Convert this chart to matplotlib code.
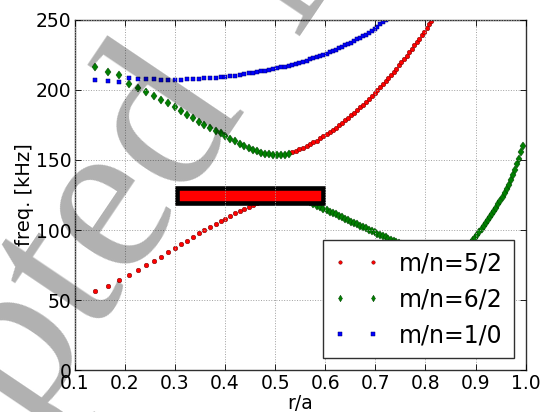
import matplotlib
matplotlib.use('Agg')
import matplotlib.pyplot as plt
from matplotlib.patches import Rectangle

# ---- data ----
r_grid = [0.141, 0.167, 0.189, 0.208, 0.226, 0.243, 0.258, 0.273, 0.287, 0.300,
          0.313, 0.325, 0.337, 0.348, 0.359, 0.370, 0.381, 0.391, 0.400, 0.410,
          0.420, 0.429, 0.438, 0.447, 0.455, 0.464, 0.472, 0.480, 0.488, 0.496,
          0.504, 0.512, 0.519, 0.527, 0.534, 0.541, 0.548, 0.556, 0.563, 0.569,
          0.576, 0.583, 0.590, 0.596, 0.603, 0.609, 0.616, 0.622, 0.628, 0.634,
          0.640, 0.646, 0.652, 0.658, 0.664, 0.670, 0.676, 0.682, 0.687, 0.693,
          0.699, 0.704, 0.710, 0.715, 0.721, 0.726, 0.731, 0.737, 0.742, 0.747,
          0.752, 0.758, 0.763, 0.768, 0.773, 0.778, 0.783, 0.788, 0.793, 0.798,
          0.803, 0.807, 0.812, 0.817, 0.822, 0.826, 0.831, 0.836, 0.841, 0.845,
          0.850, 0.854, 0.859, 0.863, 0.868, 0.872, 0.877, 0.881, 0.886, 0.890,
          0.894, 0.899, 0.903, 0.907, 0.912, 0.916, 0.920, 0.924, 0.929, 0.933,
          0.937, 0.941, 0.945, 0.949, 0.954, 0.958, 0.962, 0.966, 0.970, 0.974,
          0.978, 0.982, 0.986, 0.990, 0.994]

freq_52 = [56.4, 60.2, 64.3, 68.1, 71.4, 74.8, 78.1, 80.9, 84.1, 87.1,
           90.2, 92.4, 95.0, 97.6, 100.0, 102.1, 104.3, 106.2, 108.1, 110.0,
           111.9, 113.6, 115.0, 116.4, 117.9, 119.2, 120.4, 121.5, 122.5, 123.4,
           124.2, 124.9, 125.5, 126.0, 155.4, 156.5, 157.6, 158.7, 160.0, 161.2,
           162.6, 163.9, 165.4, 166.8, 168.3, 169.9, 171.5, 173.1, 174.8, 176.5,
           178.3, 180.1, 181.9, 183.7, 185.6, 187.6, 189.5, 191.5, 193.5, 195.6,
           197.6, 199.7, 201.9, 204.0, 206.2, 208.4, 210.6, 212.9, 215.2, 217.5,
           219.8, 222.2, 224.5, 226.9, 229.3, 231.8, 234.2, 236.7, 239.2, 241.7,
           244.2, 246.8, 249.4, 251.9]

freq_62 = [216.4, 213.1, 211.0, 204.1, 201.2, 198.6, 195.7, 193.1, 190.5, 187.9,
           185.0, 182.1, 179.8, 177.4, 175.2, 173.1, 171.0, 169.1, 167.1, 165.2,
           163.6, 161.6, 160.2, 158.8, 157.4, 156.4, 155.2, 154.5, 154.1, 153.6,
           153.6, 153.6, 153.9, 154.4, 125.5, 124.4, 123.2, 121.9, 120.8, 119.8,
           118.6, 117.5, 116.3, 115.3, 114.2, 113.2, 112.1, 111.1, 110.0, 109.0,
           108.0, 107.0, 106.0, 105.0, 104.1, 103.1, 102.1, 101.2, 100.3, 99.3,
           98.4, 97.5, 96.6, 95.7, 94.8, 93.9, 93.0, 92.2, 91.3, 90.5,
           89.7, 88.9, 88.0, 87.1, 86.2, 85.4, 84.6, 83.8, 83.1, 82.4,
           81.8, 81.3, 80.9, 80.6, 80.4, 80.3, 80.3, 80.4, 80.6, 80.9,
           81.3, 81.9, 82.6, 83.4, 84.3, 85.3, 86.3, 87.5, 89.0, 90.7,
           92.6, 94.6, 96.7, 98.8, 100.9, 103.0, 105.1, 107.2, 109.3, 111.4,
           113.6, 115.9, 118.3, 120.8, 123.5, 126.3, 129.3, 132.4, 135.7, 139.2,
           142.9, 146.8, 151.0, 155.4, 160.3]

freq_10 = [206.9, 206.4, 205.7, 208.8, 208.1, 207.9, 207.6, 207.4, 207.4, 207.4,
           207.4, 207.6, 207.9, 208.1, 208.3, 208.6, 208.8, 209.0, 209.4, 209.8,
           210.3, 210.8, 211.3, 211.8, 212.3, 212.8, 213.3, 213.8, 214.3, 214.9,
           215.5, 216.1, 216.7, 217.4, 218.1, 218.8, 219.5, 220.2, 221.0, 221.8,
           222.6, 223.4, 224.2, 225.1, 226.0, 226.9, 227.8, 228.8, 229.8, 230.8,
           231.8, 232.8, 233.9, 235.0, 236.1, 237.2, 238.4, 239.6, 240.8, 242.1,
           243.8, 245.3, 246.8, 248.3, 249.8, 251.3]

labels = ['m/n=5/2', 'm/n=6/2', 'm/n=1/0']
box_r = [0.305, 0.595]
box_f = [119.2, 130.1]
xticks = [0.1, 0.2, 0.3, 0.4, 0.5, 0.6, 0.7, 0.8, 0.9, 1.0]
yticks = [0, 50, 100, 150, 200, 250]

plt.rcParams.update({
    'font.family': 'DejaVu Sans',
    'font.size': 13.5,
    'xtick.direction': 'in', 'ytick.direction': 'in',
    'xtick.top': True, 'ytick.right': True,
    'xtick.major.size': 4, 'ytick.major.size': 4,
    'xtick.major.width': 0.6, 'ytick.major.width': 0.6,
    'xtick.major.pad': 3, 'ytick.major.pad': 2.5,
    'axes.linewidth': 1.0,
})

fig = plt.figure(figsize=(5.43, 4.12), dpi=100)
ax = fig.add_axes([0.1376, 0.1019, 0.8305, 0.8496])

ax.plot(r_grid[:len(freq_52)], freq_52, ls='none', marker='o', color='#ff0000',
        ms=3.3, mec='#700000', mew=0.35, label=labels[0], zorder=2)
ax.plot(r_grid[:len(freq_62)], freq_62, ls='none', marker='d', color='#008000',
        ms=4.4, mec='#004000', mew=0.35, label=labels[1], zorder=2)
ax.plot(r_grid[:len(freq_10)], freq_10, ls='none', marker='s', color='#0000ff',
        ms=3.0, mec='#000070', mew=0.35, label=labels[2], zorder=2)

ax.add_patch(Rectangle((box_r[0], box_f[0]), box_r[1] - box_r[0], box_f[1] - box_f[0],
                       facecolor='#ff0000', edgecolor='black', lw=3.3, zorder=2.2))

ax.set_xlim(0.1, 1.0)
ax.set_ylim(0, 250)
ax.set_xticks(xticks)
ax.set_yticks(yticks)
ax.set_xticklabels(['%.1f' % v for v in xticks])
ax.set_axisbelow(False)
ax.grid(True, color='#a0a0a0', ls=':', lw=0.7, zorder=2.5)
for s in ax.spines.values():
    s.set_color('#303030')

ax.set_xlabel('r/a', fontsize=13.5, labelpad=0.5)
ax.set_ylabel('freq. [kHz]', fontsize=14, labelpad=1)

leg = ax.legend(loc='lower right', numpoints=2, fontsize=17, markerscale=0.75,
                fancybox=False, edgecolor='#303030', framealpha=1,
                borderpad=0.45, labelspacing=0.52, handlelength=2.0,
                handletextpad=0.8, borderaxespad=0.5)
leg.get_frame().set_linewidth(1.0)
leg.set_zorder(5)

# watermark
wm = dict(rotation=56, rotation_mode='anchor', va='baseline', fontsize=162,
          family='Liberation Serif', color='black', alpha=0.31, zorder=10)
fig.text(0.452, 0.740, 'Accepted', ha='right', **wm)
fig.text(0.452 + 0.088, 0.740 + 0.172, 'Manuscript', ha='left', **wm)

fig.savefig('out.png', dpi=100)
